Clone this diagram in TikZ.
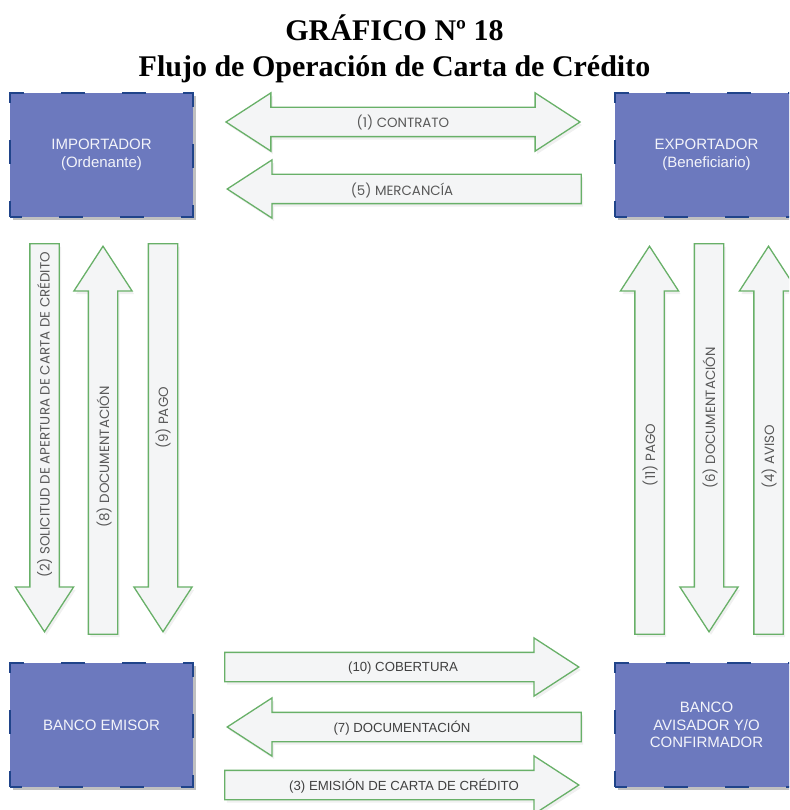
\documentclass[tikz,border=0pt]{standalone}
\usepackage{fontspec}
\setmainfont{Liberation Serif}
\newfontfamily\boxfont{Liberation Sans}
\newfontfamily\geofont{Poppins}
\usetikzlibrary{shapes.arrows,shadows,positioning}

\definecolor{partyblue}{RGB}{108,121,190}
\definecolor{partyedge}{RGB}{32,68,138}
\definecolor{flowgreen}{RGB}{104,176,104}
\definecolor{flowfill}{RGB}{244,245,246}
\definecolor{flowtext}{RGB}{88,88,88}

\begin{document}
\begin{tikzpicture}[
  x=1pt, y=-1pt,
  party/.style={
    draw=partyedge,
    fill=partyblue,
    line width=2.4pt,
    dash pattern=on 24pt off 37pt,
    dash phase=12pt,
    minimum width=183pt,
    minimum height=124pt,
    align=center,
    text=white!92!partyblue,
    font=\boxfont\fontsize{15}{17.5}\selectfont,
    drop shadow={shadow xshift=3pt, shadow yshift=-3pt, opacity=.45, fill=black!55}
  },
  flow/.style={
    single arrow,
    draw=flowgreen,
    fill=flowfill,
    line width=1.3pt,
    text height=0pt,
    text depth=0pt,
    inner xsep=0pt,
    inner ysep=14pt,
    single arrow head extend=14.5pt,
    single arrow tip angle=66,
    drop shadow={shadow xshift=2pt, shadow yshift=-3pt, opacity=.12}
  },
  dflow/.style={
    double arrow,
    draw=flowgreen,
    fill=flowfill,
    line width=1.3pt,
    text height=0pt,
    text depth=0pt,
    inner xsep=0pt,
    inner ysep=14pt,
    double arrow head extend=14.5pt,
    double arrow tip angle=66,
    drop shadow={shadow xshift=2pt, shadow yshift=-3pt, opacity=.12}
  },
  flowlbl/.style={text=flowtext, font=\geofont\fontsize{13.4}{16}\selectfont},
  banklbl/.style={text=black!75, font=\boxfont\fontsize{13.2}{15}\selectfont},
  titlefont/.style={font=\bfseries\fontsize{30}{36}\selectfont, anchor=base}
]
\clip (0,0) rectangle (789,810);

% Title
\node[titlefont] (num) at (394.5,41) {GRÁFICO Nº 18};
\node[titlefont] (titulo) at (394.5,77) {Flujo de Operación de Carta de Crédito};

% Parties
\node[party] (imp) at (101.5,155) {IMPORTADOR\\(Ordenante)};
\node[party] (exp) at (706.5,155) {EXPORTADOR\\(Beneficiario)};
\node[party] (emisor) at (101.5,725) {BANCO EMISOR};
\node[party] (avisador) at (706.5,725) {BANCO\\AVISADOR Y/O\\CONFIRMADOR};

% Importador <-> Exportador
\node[dflow, minimum height=354pt] (contrato) at (403,122) {};
\node[flow, minimum height=354pt, rotate=180, anchor=tip] (mercancia) at (226,189) {};
\node[flowlbl] (l1) at (contrato) {(1) CONTRATO};
\node[flowlbl] (l5) at (402,190) {(5) MERCANCÍA};

% Importador <-> Banco emisor
\node[flow, minimum height=388pt, rotate=-90, anchor=tip] (solicitud) at (44.5,633) {};
\node[flow, minimum height=388pt, rotate=90, anchor=tip] (docimp) at (103,245) {};
\node[flow, minimum height=388pt, rotate=-90, anchor=tip] (pagoimp) at (163,633) {};
\node[flowlbl, rotate=90] (l2) at (44.5,415) {(2) SOLICITUD DE APERTURA DE CARTA DE CRÉDITO};
\node[flowlbl, rotate=90] (l8) at (104,457) {(8) DOCUMENTACIÓN};
\node[flowlbl, rotate=90] (l9) at (163,418) {(9) PAGO};

% Exportador <-> Banco avisador
\node[flow, minimum height=388pt, rotate=90, anchor=tip] (pagoexp) at (649.5,245) {};
\node[flow, minimum height=388pt, rotate=-90, anchor=tip] (docexp) at (709,633) {};
\node[flow, minimum height=388pt, rotate=90, anchor=tip] (aviso) at (768.5,245) {};
\node[flowlbl, rotate=90] (l11) at (650,455) {(11) PAGO};
\node[flowlbl, rotate=90] (l6) at (710,418) {(6) DOCUMENTACIÓN};
\node[flowlbl, rotate=90] (l4) at (769,457) {(4) AVISO};

% Banco emisor <-> Banco avisador
\node[flow, minimum height=354pt, anchor=tip] (cobertura) at (580,667) {};
\node[flow, minimum height=354pt, rotate=180, anchor=tip] (docbanco) at (226,727) {};
\node[flow, minimum height=354pt, anchor=tip] (emision) at (580,785) {};
\node[banklbl] (l10) at (403,668) {(10) COBERTURA};
\node[banklbl] (l7) at (402,728) {(7) DOCUMENTACIÓN};
\node[banklbl] (l3) at (404,786) {(3) EMISIÓN DE CARTA DE CRÉDITO};

\end{tikzpicture}
\end{document}
